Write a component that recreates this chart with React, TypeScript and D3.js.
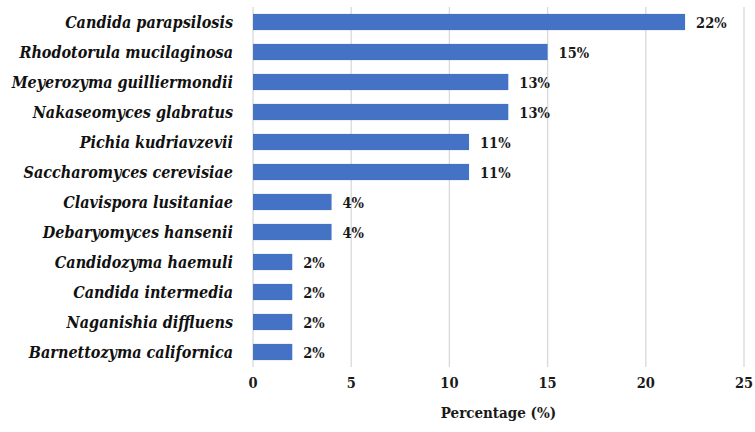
import React, { useRef, useEffect } from 'react';
import * as d3 from 'd3';

const species = [
  'Candida parapsilosis',
  'Rhodotorula mucilaginosa',
  'Meyerozyma guilliermondii',
  'Nakaseomyces glabratus',
  'Pichia kudriavzevii',
  'Saccharomyces cerevisiae',
  'Clavispora lusitaniae',
  'Debaryomyces hansenii',
  'Candidozyma haemuli',
  'Candida intermedia',
  'Naganishia diffluens',
  'Barnettozyma californica',
];
const percentages = [22, 15, 13, 13, 11, 11, 4, 4, 2, 2, 2, 2];
const xTicks = [0, 5, 10, 15, 20, 25];

const FONT = '"DejaVu Serif Condensed", "DejaVu Serif", serif';

const App = () => {
  const svgRef = useRef<SVGSVGElement>(null);

  useEffect(() => {
    const svg = d3.select(svgRef.current);
    svg.selectAll('*').remove();

    const left = 253, right = 744, top = 7, bottom = 367;

    const x = d3.scaleLinear().domain([0, 25]).range([left, right]);
    const y = d3.scaleBand<string>()
      .domain(species)
      .range([top, bottom])
      .paddingInner(0.46)
      .paddingOuter(0.23);

    // vertical gridlines
    svg.append('g')
      .selectAll('line')
      .data(xTicks)
      .enter().append('line')
      .attr('x1', d => x(d))
      .attr('x2', d => x(d))
      .attr('y1', top)
      .attr('y2', bottom)
      .attr('stroke', '#d9d9d9')
      .attr('stroke-width', 1.3);

    const rows = species.map((s, i) => ({ name: s, value: percentages[i] }));

    svg.append('g')
      .selectAll('rect')
      .data(rows)
      .enter().append('rect')
      .attr('x', x(0))
      .attr('y', d => y(d.name)!)
      .attr('width', d => x(d.value) - x(0))
      .attr('height', y.bandwidth())
      .attr('fill', '#4472C4');

    // value labels
    svg.append('g')
      .selectAll('text')
      .data(rows)
      .enter().append('text')
      .attr('x', d => x(d.value) + 11)
      .attr('y', d => y(d.name)! + y.bandwidth() / 2 + 6)
      .attr('font-family', FONT)
      .attr('font-weight', 'bold')
      .attr('font-size', 14.5)
      .attr('fill', '#1a1a1a')
      .text(d => d.value + '%');

    // category labels
    svg.append('g')
      .selectAll('text')
      .data(rows)
      .enter().append('text')
      .attr('x', 233)
      .attr('y', d => y(d.name)! + y.bandwidth() / 2 + 6)
      .attr('text-anchor', 'end')
      .attr('font-family', FONT)
      .attr('font-weight', 'bold')
      .attr('font-style', 'italic')
      .attr('font-size', 16)
      .attr('fill', '#111')
      .text(d => d.name);

    // x tick labels
    svg.append('g')
      .selectAll('text')
      .data(xTicks)
      .enter().append('text')
      .attr('x', d => x(d))
      .attr('y', 388)
      .attr('text-anchor', 'middle')
      .attr('font-family', FONT)
      .attr('font-weight', 'bold')
      .attr('font-size', 14.5)
      .attr('fill', '#1a1a1a')
      .text(d => d);

    svg.append('text')
      .attr('x', (left + right) / 2)
      .attr('y', 418)
      .attr('text-anchor', 'middle')
      .attr('font-family', FONT)
      .attr('font-weight', 'bold')
      .attr('font-size', 15)
      .attr('fill', '#1a1a1a')
      .text('Percentage (%)');
  }, []);

  return (
    <svg
      ref={svgRef}
      width={755}
      height={432}
      style={{ position: 'absolute', left: 0, top: 0, background: '#fff' }}
    />
  );
};

export default App;
